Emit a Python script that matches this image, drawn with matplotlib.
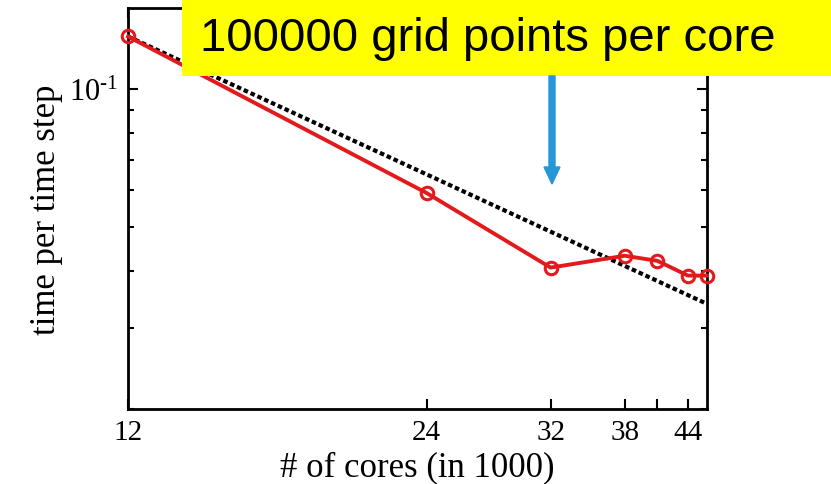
import matplotlib
matplotlib.use("Agg")
import matplotlib.pyplot as plt
from matplotlib.patches import Rectangle, FancyArrow
from matplotlib.ticker import FixedLocator, FixedFormatter, LogLocator, NullFormatter

# cores (in 1000) vs. time per time step
cores = [12, 24, 32, 38, 41, 44, 46]
time_step = [0.130, 0.0592, 0.0407, 0.0432, 0.0421, 0.0391, 0.0391]

# ideal strong scaling from the first point
ideal_x = [12, 46]
ideal_y = [time_step[0] * cores[0] / c for c in ideal_x]

xticks = [12, 24, 32, 38, 41, 44]
xlabels = ["12", "24", "32", "38", "", "44"]

plt.rcParams["font.family"] = "Liberation Serif"
plt.rcParams["mathtext.fontset"] = "custom"
plt.rcParams["mathtext.rm"] = "Liberation Serif"
plt.rcParams["mathtext.it"] = "Liberation Serif"

fig = plt.figure(figsize=(8.31, 4.85), dpi=100)
ax = fig.add_axes([128 / 831, 75 / 485, 579 / 831, 401 / 485])

ax.plot(ideal_x, ideal_y, color="black", linestyle=(0, (1.1, 0.7)), linewidth=3)
ax.plot(cores, time_step, color="#e3191c", linewidth=2.8, marker="o", markersize=9,
        markerfacecolor="none", markeredgewidth=2.2, clip_on=False, zorder=3)

ax.set_xscale("log")
ax.set_yscale("log")
ax.set_xlim(12, 46)
ax.set_ylim(0.02, 0.15)

ax.xaxis.set_major_locator(FixedLocator(xticks))
ax.xaxis.set_major_formatter(FixedFormatter(xlabels))
ax.xaxis.set_minor_locator(FixedLocator([]))
ax.yaxis.set_major_locator(FixedLocator([0.1]))
ax.yaxis.set_major_formatter(FixedFormatter([r"$10^{\text{-}1}$"]))
ax.yaxis.set_minor_locator(LogLocator(base=10, subs=range(2, 10)))
ax.yaxis.set_minor_formatter(NullFormatter())

ax.tick_params(which="both", direction="in", top=True, right=True, width=1.5)
ax.tick_params(which="major", length=7, labelsize=21, pad=7)
ax.tick_params(axis="y", which="major", labelsize=22, pad=7)
ax.tick_params(which="minor", length=4)
for s in ax.spines.values():
    s.set_linewidth(2)

ax.set_xlabel("# of cores (in 1000)", fontsize=25, labelpad=4)
ax.set_ylabel("time per time step", fontsize=25, labelpad=4)

# yellow label box and arrow on top
fig.add_artist(Rectangle((182 / 831, 1 - 77 / 485), 1 - 182 / 831, 77 / 485,
                         transform=fig.transFigure, facecolor="#ffff00",
                         edgecolor="none", zorder=5))
fig.text(200 / 831, 1 - 39 / 485, "100000 grid points per core", fontsize=34,
         family="Liberation Sans", va="center", ha="left", zorder=6)
fig.add_artist(FancyArrow(552 / 831, 1 - 77 / 485, 0, -(185 - 77) / 485,
                          width=6 / 831, head_width=16 / 831, head_length=17 / 485,
                          length_includes_head=True, transform=fig.transFigure,
                          color="#2597d8", zorder=6))

fig.savefig("out.png", dpi=100)
